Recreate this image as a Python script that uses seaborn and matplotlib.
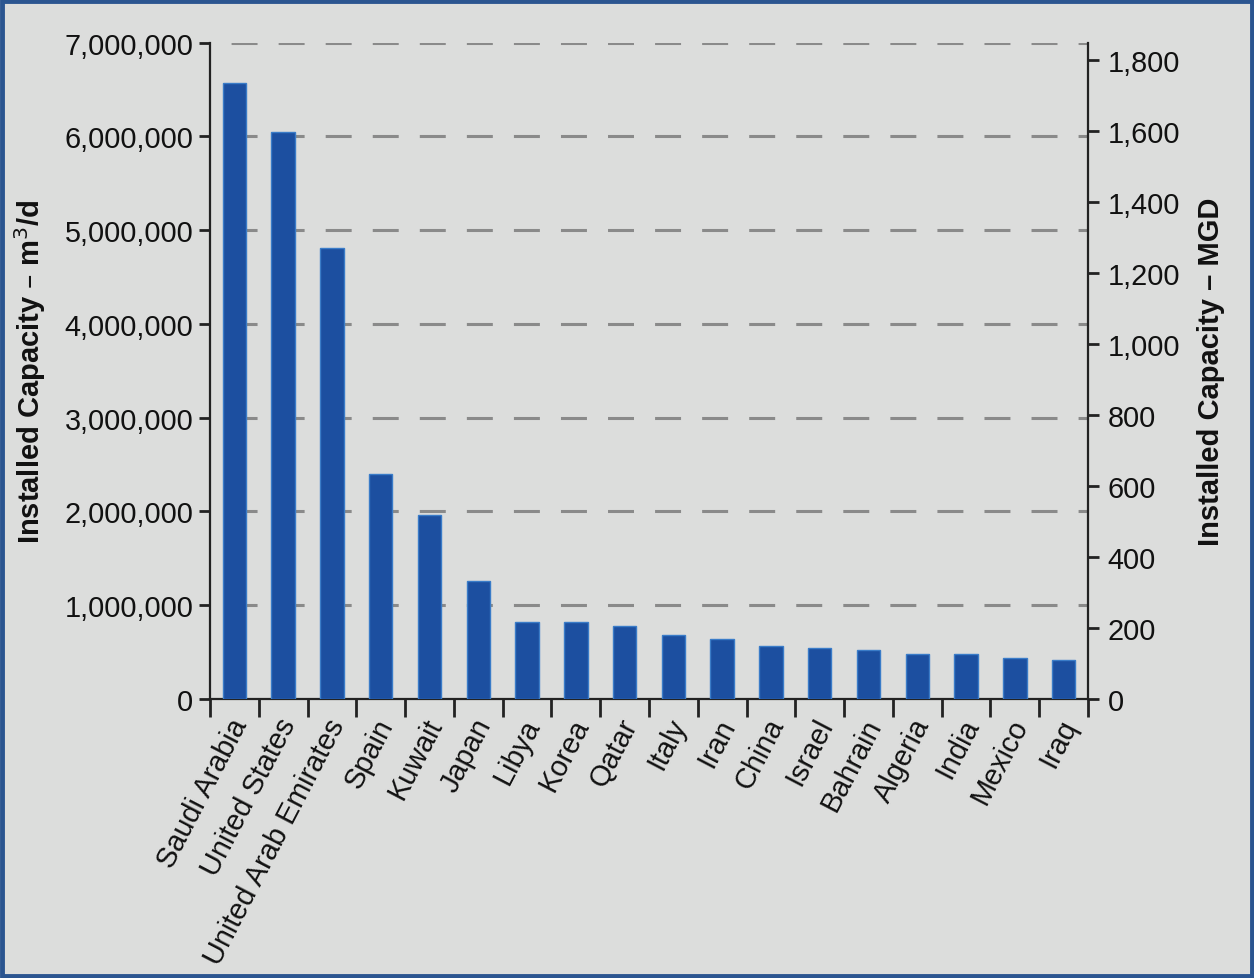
import matplotlib
matplotlib.use("Agg")
import matplotlib.pyplot as plt
import matplotlib.transforms as mtransforms
import seaborn as sns
import pandas as pd
from matplotlib.ticker import FuncFormatter, MultipleLocator
from matplotlib.patches import Rectangle

countries = ["Saudi Arabia", "United States", "United Arab Emirates", "Spain", "Kuwait",
             "Japan", "Libya", "Korea", "Qatar", "Italy", "Iran", "China", "Israel",
             "Bahrain", "Algeria", "India", "Mexico", "Iraq"]
capacity_m3d = [6570000, 6050000, 4810000, 2400000, 1960000,
                1255000, 825000, 825000, 779000, 683000, 640000, 569000, 547000,
                526000, 480000, 480000, 434000, 413000]
M3D_PER_MGD = 3785.41

df = pd.DataFrame({"country": countries, "capacity": capacity_m3d})

BG = "#dcdddc"
BAR = "#1c4fa0"

sns.set_theme(style="white")
plt.rcParams["font.family"] = ["Liberation Sans", "DejaVu Sans"]

fig = plt.figure(figsize=(12.54, 9.79), dpi=100, facecolor=BG)
ax = fig.add_axes([210/1254, 1-700/979, (1088-210)/1254, (700-43.7)/979])
ax.set_facecolor(BG)

sns.barplot(data=df, x="country", y="capacity", color=BAR, width=0.48,
            edgecolor="#3a7cc8", linewidth=1.0, saturation=1, ax=ax, zorder=3)

ax.set_ylim(0, 7000000)
ax.set_xlim(-0.5, len(countries) - 0.5)
ax.yaxis.set_major_locator(MultipleLocator(1000000))
ax.yaxis.set_major_formatter(FuncFormatter(lambda v, p: f"{int(v):,}"))

# dashed grid
for v in range(1000000, 7000001, 1000000):
    ax.axhline(v, color="#8a8a8a", lw=2.2, ls=(8.5, (8.5, 6.9)), zorder=1)

for s in ["top", "right"]:
    ax.spines[s].set_visible(False)
for s in ["left", "bottom"]:
    ax.spines[s].set_color("#222222")
    ax.spines[s].set_linewidth(1.6)

ax.tick_params(axis="y", which="major", direction="out", length=8, width=2,
               color="#222222", labelsize=20.8, labelcolor="#111111", left=True, pad=4)

# x ticks at category boundaries
ax.set_xticks(range(len(countries)))
ax.set_xticklabels(countries, rotation=62.5, ha="right", va="center",
                   rotation_mode="anchor", fontsize=20.8, color="#111111")
ax.tick_params(axis="x", which="major", length=0, pad=15)
shift = mtransforms.ScaledTranslation(6/100, 0, fig.dpi_scale_trans)
for lab in ax.get_xticklabels():
    lab.set_transform(lab.get_transform() + shift)
ax.set_xticks([i - 0.5 for i in range(len(countries) + 1)], minor=True)
ax.tick_params(axis="x", which="minor", direction="out", length=13, width=2,
               color="#222222", bottom=True)

ax.set_xlabel("")
ax.set_ylabel("Installed Capacity – m$^3$/d", fontsize=21, fontweight="bold",
              color="#111111", labelpad=12)

ax2 = ax.twinx()
ax2.set_ylim(0, 7000000 / M3D_PER_MGD)
ax2.yaxis.set_major_locator(MultipleLocator(200))
ax2.yaxis.set_major_formatter(FuncFormatter(lambda v, p: f"{int(v):,}"))
for s in ["top", "left", "bottom"]:
    ax2.spines[s].set_visible(False)
ax2.spines["right"].set_color("#222222")
ax2.spines["right"].set_linewidth(1.6)
ax2.tick_params(axis="y", direction="out", length=8, width=2, color="#222222",
                labelsize=20.8, labelcolor="#111111", right=True, pad=6)
ax2.set_ylabel("Installed Capacity – MGD", fontsize=21, fontweight="bold",
               color="#111111", labelpad=12)

# outer border
fig.patches.append(Rectangle((0.0015, 0.002), 0.997, 0.996, transform=fig.transFigure,
                             fill=False, edgecolor="#2b5590", linewidth=3.5))

fig.savefig("out.png", dpi=100, facecolor=BG)
